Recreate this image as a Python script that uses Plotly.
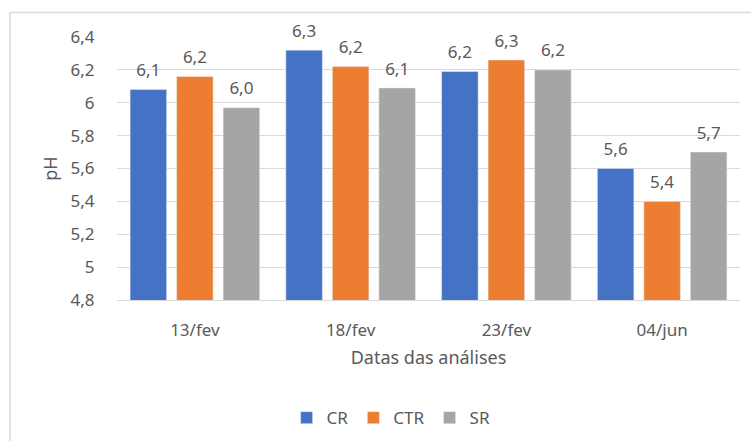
import plotly.graph_objects as go

categories = ["13/fev", "18/fev", "23/fev", "04/jun"]
series_names = ["CR", "CTR", "SR"]
cr_values = [6.08, 6.32, 6.19, 5.60]
ctr_values = [6.16, 6.22, 6.26, 5.40]
sr_values = [5.97, 6.09, 6.20, 5.70]
colors = ["#4472C4", "#ED7D31", "#A5A5A5"]
y_tickvals = [4.8, 5.0, 5.2, 5.4, 5.6, 5.8, 6.0, 6.2, 6.4]
y_ticktext = ["4,8", "5", "5,2", "5,4", "5,6", "5,8", "6", "6,2", "6,4"]

FONT = "Noto Sans"
TXT = "#595959"

fig = go.Figure()
for name, vals, col in zip(series_names, [cr_values, ctr_values, sr_values], colors):
    fig.add_trace(go.Bar(
        x=categories, y=vals, name=name, marker_color=col,
        texttemplate="<span style='font-size:17px'>%{y:.1f}</span><br><span style='font-size:1px'> </span>",
        textposition="outside", cliponaxis=False,
        textfont=dict(family=FONT, size=8, color=TXT),
    ))

fig.update_layout(
    width=751, height=441,
    margin=dict(l=117, r=11, t=37, b=141, autoexpand=False),
    paper_bgcolor="white", plot_bgcolor="white",
    separators=",.",
    barmode="group", bargap=0.104, bargroupgap=0.215,
    font=dict(family=FONT, size=17, color=TXT),
    showlegend=True,
    legend=dict(orientation="h", x=0.44, xanchor="center", y=-0.449, yanchor="middle",
                font=dict(family=FONT, size=17, color=TXT), itemwidth=30,
                traceorder="normal"),
    xaxis=dict(
        automargin=False,
        showgrid=False, showline=True, linecolor="#d9d9d9", linewidth=1,
        ticks="outside", ticklen=15, tickcolor="rgba(0,0,0,0)",
        tickfont=dict(family=FONT, size=17, color=TXT),
        title=dict(text="Datas das análises", font=dict(family=FONT, size=18, color=TXT), standoff=10),
    ),
    yaxis=dict(
        automargin=False,
        range=[4.8, 6.4], tickvals=y_tickvals, ticktext=y_ticktext,
        showgrid=True, gridcolor="#d9d9d9", gridwidth=1, zeroline=False,
        ticks="outside", ticklen=18, tickcolor="rgba(0,0,0,0)",
        tickfont=dict(family=FONT, size=17, color=TXT),
        title=dict(text="pH", font=dict(family=FONT, size=18, color=TXT), standoff=8),
    ),
    shapes=[dict(type="rect", xref="paper", yref="paper",
                 x0=(10 - 117) / 623, x1=(760 - 117) / 623,
                 y0=(300 - 450) / 263, y1=(300 - 12.5) / 263,
                 line=dict(color="#d9d9d9", width=1.5), fillcolor="rgba(0,0,0,0)", layer="below")],
)

fig.write_html("out.html", config={"displayModeBar": False},
               post_script="document.body.style.margin='0';document.body.style.overflow='hidden';")
